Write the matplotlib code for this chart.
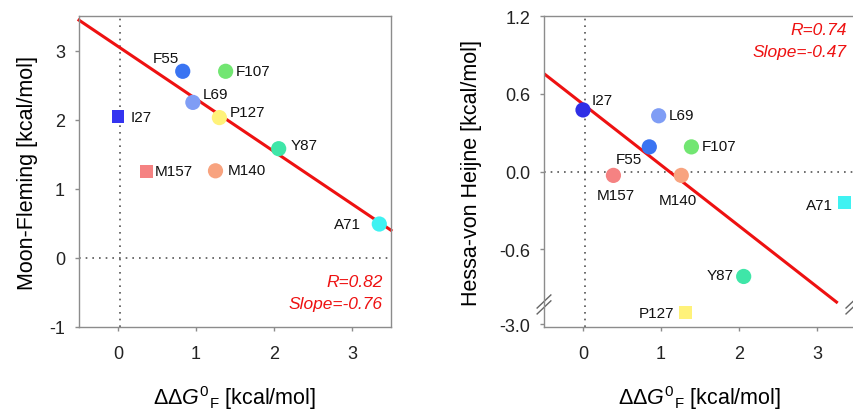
import matplotlib
matplotlib.use("Agg")
import matplotlib.pyplot as plt

plt.rcParams['font.family'] = ['Liberation Sans', 'DejaVu Sans']
plt.rcParams['mathtext.fontset'] = 'custom'
plt.rcParams['mathtext.rm'] = 'Liberation Sans'
plt.rcParams['mathtext.it'] = 'Liberation Sans:italic'
plt.rcParams['axes.unicode_minus'] = False

# residues
names = ["F55", "F107", "L69", "P127", "I27", "Y87", "M157", "M140", "A71"]
colors = ["#3a74f2", "#72e672", "#7f9df5", "#fff27a", "#3434f0",
          "#3fe6a8", "#f58282", "#f8a37f", "#3ff2f2"]

# left panel: Moon-Fleming
mf_x = [0.83, 1.38, 0.96, 1.30, 0.00, 2.06, 0.37, 1.25, 3.35]
mf_y = [2.70, 2.70, 2.25, 2.03, 2.04, 1.58, 1.25, 1.26, 0.49]
mf_marker = ["o", "o", "o", "o", "s", "o", "s", "o", "o"]
mf_fit = (3.06, -0.76)
mf_stats = ["R=0.82", "Slope=-0.76"]

# right panel: Hessa-von Heijne
hv_x = [0.85, 1.39, 0.97, 1.31, 0.00, 2.06, 0.39, 1.26, 3.35]
hv_y = [0.19, 0.19, 0.43, -2.91, 0.475, -0.81, -0.03, -0.03, -0.24]
hv_marker = ["o", "o", "o", "s", "o", "o", "o", "o", "s"]
hv_colors = list(colors)
hv_colors[4] = "#2f2fe6"
hv_fit = (0.52, -0.47)
hv_fit_xmax = 3.25
hv_stats = ["R=0.74", "Slope=-0.47"]
hv_ticks = [1.2, 0.6, 0.0, -0.6, -3.0]

# label offsets in pixels (dx, dy, ha)
mf_off = [(-17, 13, "center"), (10, 0, "left"), (10, 8, "left"), (10, 6, "left"),
          (13, 0, "left"), (12, 4, "left"), (8, 0, "left"), (12, 1, "left"),
          (-18, 0, "right")]
hv_off = [(-20, -12, "center"), (10, 1, "left"), (10, 1, "left"), (-11, 0, "right"),
          (9, 10, "left"), (-10, 1, "right"), (2, -20, "center"), (-3, -25, "center"),
          (-11, -2, "right")]

BREAK_LO = -1.1
BREAK_SHIFT = 1.82


def brk(v):
    return v + BREAK_SHIFT if v < BREAK_LO else v


W, H = 854, 414
fig = plt.figure(figsize=(W / 100, H / 100), dpi=100)
ax1 = fig.add_axes([79 / W, 1 - 328 / H, 312 / W, 311 / H])
ax2 = fig.add_axes([544 / W, 1 - 328 / H, 312 / W, 311 / H])

spine_col = "#8c8c8c"
pt = 72 / 100
red = "#ee1111"


def style(ax):
    for s in ax.spines.values():
        s.set_color(spine_col)
        s.set_linewidth(1.0)
    ax.tick_params(direction="out", length=3, width=1, color=spine_col,
                   labelsize=13, labelcolor="#222222", pad=7)
    ax.tick_params(axis="x", pad=10)
    ax.axvline(0.02, color="#555555", lw=1.2, ls=(0, (1, 3)), zorder=1)
    ax.axhline(0, color="#555555", lw=1.2, ls=(0, (1, 3)), zorder=1)
    ax.set_xlim(-0.5, 3.5)
    ax.set_xticks([0, 1, 2, 3])
    ax.set_xlabel(r"$\Delta\Delta \mathit{G}^{0}{}_{\mathrm{F}}$ [kcal/mol]",
                  fontsize=15.5, labelpad=15)


def scatter(ax, xs, ys, marks, cols, offs):
    for x, y, m, c, n, (dx, dy, ha) in zip(xs, ys, marks, cols, names, offs):
        ax.scatter([x], [y], marker=m, s=120 if m == "o" else 85, color=c,
                   edgecolors="none", zorder=3)
        ax.annotate(n, (x, y), xytext=(dx * pt, dy * pt), textcoords="offset points",
                    ha=ha, va="center", fontsize=11, color="#111111", zorder=4)


# left
style(ax1)
ax1.set_ylim(-1, 3.5)
ax1.set_yticks([-1, 0, 1, 2, 3])
ax1.set_ylabel("Moon-Fleming [kcal/mol]", fontsize=15.5, labelpad=8)
scatter(ax1, mf_x, mf_y, mf_marker, colors, mf_off)
ax1.plot([-0.5, 3.5], [mf_fit[0] + mf_fit[1] * -0.5, mf_fit[0] + mf_fit[1] * 3.5],
         color=red, lw=2.2, zorder=2, clip_on=False)
ax1.text(0.973, 0.145, mf_stats[0], transform=ax1.transAxes, ha="right", va="center",
         fontsize=12.5, style="italic", color=red)
ax1.text(0.973, 0.077, mf_stats[1], transform=ax1.transAxes, ha="right", va="center",
         fontsize=12.5, style="italic", color=red)

# right
style(ax2)
ax2.set_ylim(-1.2, 1.2)
ax2.set_yticks([brk(v) for v in hv_ticks])
ax2.set_yticklabels(["%.1f" % v for v in hv_ticks])
ax2.set_ylabel("Hessa-von Heijne [kcal/mol]", fontsize=15.5, labelpad=12)
scatter(ax2, hv_x, [brk(v) for v in hv_y], hv_marker, hv_colors, hv_off)
ax2.plot([-0.5, hv_fit_xmax], [hv_fit[0] + hv_fit[1] * -0.5, hv_fit[0] + hv_fit[1] * hv_fit_xmax],
         color=red, lw=2.2, zorder=2)
ax2.text(0.970, 0.955, hv_stats[0], transform=ax2.transAxes, ha="right", va="center",
         fontsize=12.5, style="italic", color=red)
ax2.text(0.970, 0.885, hv_stats[1], transform=ax2.transAxes, ha="right", va="center",
         fontsize=12.5, style="italic", color=red)

# axis break marks
for xa in (0.0, 0.99):
    for yb in (0.063, 0.082):
        ax2.plot([xa - 0.022, xa + 0.022], [yb - 0.021, yb + 0.021],
                 transform=ax2.transAxes, color="#666666", lw=1, clip_on=False)

fig.savefig("out.png", dpi=100)
